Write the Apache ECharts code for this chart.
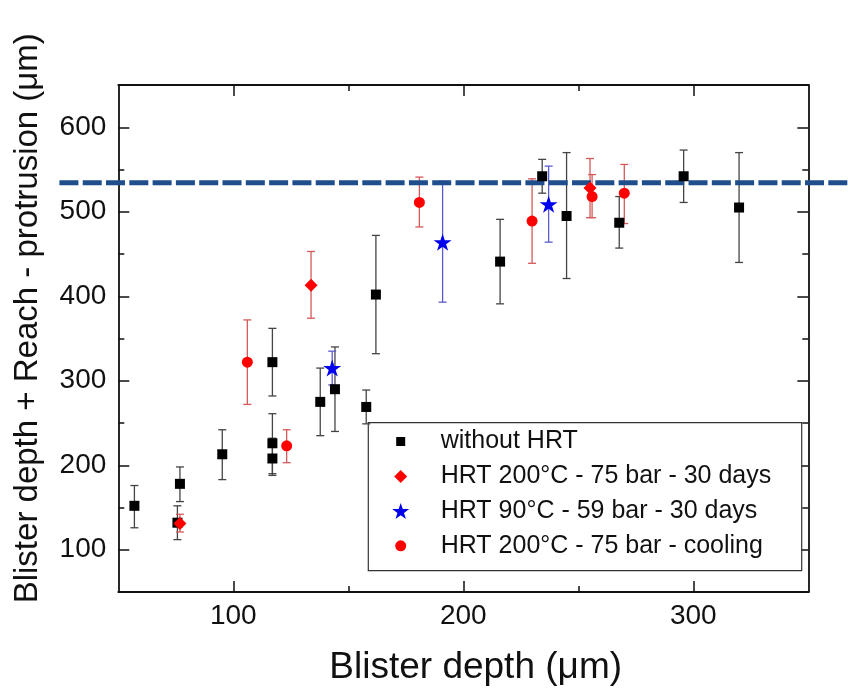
<!DOCTYPE html>
<html>
<head>
<meta charset="utf-8">
<script src="https://cdn.jsdelivr.net/npm/echarts@6/dist/echarts.min.js"></script>
<style>html,body{margin:0;padding:0;background:#fff;}#c{width:848px;height:693px;}</style>
</head>
<body>
<div id="c"></div>
<script>
// ---- data: [blister depth, value, lower error, upper error] ----
const withoutHRT = [
  [57, 152, 126, 176], [76.8, 178, 157, 198], [75.7, 132, 112, 152], [95.2, 213, 183, 242],
  [117, 322, 282, 362], [117, 226, 190, 261], [117, 208, 188, 232], [137.8, 275, 235, 315],
  [144.2, 290, 240, 340], [157.8, 269, 249, 289], [162, 402, 332, 472], [216, 441, 391, 491],
  [234.3, 542, 522, 562], [244.9, 495, 421, 570], [267.8, 487, 457, 518], [295.8, 542, 511, 573],
  [319.9, 505, 440, 570]
];
const hrt200Days = [[76.8, 131, 121, 142], [133.8, 413, 374, 453], [255.1, 528, 493, 563]];
const hrt90Days = [[143, 315, 295, 335], [191, 464, 393, 536], [237.1, 509, 464, 554]];
const hrt200Cooling = [
  [106.1, 322, 272, 372], [123.2, 223, 203, 242], [180.9, 511, 482, 541],
  [229.9, 489, 439, 539], [256, 518, 493, 544], [270, 522, 486, 556]
];
const reachLevel = 534.4;
const reachLineX = [24.4, 367.4];
const seriesNames = ['without HRT', 'HRT 200°C - 75 bar - 30 days', 'HRT 90°C - 59 bar - 30 days', 'HRT 200°C - 75 bar - cooling'];
const xRange = [50, 350], yRange = [50, 650];
const xMajor = [100, 200, 300], xMinor = [150, 250];
const yMajor = [100, 200, 300, 400, 500, 600], yMinor = [150, 250, 350, 450, 550];
const xTitle = 'Blister depth (\u03bcm)';
const yTitle = 'Blister depth + Reach - protrusion (\u03bcm)';

const FONT = '"Liberation Sans", Arial, sans-serif';
const STAR = 'path://M50,0 L61.8,35.1 L98.9,35.1 L68.9,56.8 L80.3,91.9 L50,70.2 L19.7,91.9 L31.1,56.8 L1.1,35.1 L38.2,35.1 Z';

function mkAxis(kind, pos, range, ticks, len, showLine, labels) {
  return {
    type: 'value', position: pos, min: range[0], max: range[1],
    axisLine: { show: showLine, onZero: false, lineStyle: { color: '#111', width: 1.8 } },
    axisTick: { show: true, inside: true, length: len, customValues: ticks, lineStyle: { color: '#111', width: 1.5 } },
    axisLabel: labels ? { show: true, customValues: ticks, color: '#111', fontSize: 28, fontFamily: FONT, margin: kind === 'x' ? 10 : 12 } : { show: false },
    splitLine: { show: false }
  };
}

function errorSeries(data, color) {
  return {
    type: 'custom', data: data, z: 2, silent: true,
    encode: { x: 0, y: 1 },
    renderItem: function (params, api) {
      const x = api.value(0);
      const top = api.coord([x, api.value(3)]);
      const bot = api.coord([x, api.value(2)]);
      const w = 4;
      const st = { stroke: color, lineWidth: 1.3 };
      return {
        type: 'group', children: [
          { type: 'line', shape: { x1: top[0], y1: top[1], x2: bot[0], y2: bot[1] }, style: st },
          { type: 'line', shape: { x1: top[0] - w, y1: top[1], x2: top[0] + w, y2: top[1] }, style: st },
          { type: 'line', shape: { x1: bot[0] - w, y1: bot[1], x2: bot[0] + w, y2: bot[1] }, style: st }
        ]
      };
    }
  };
}

const pts = d => d.map(r => [r[0], r[1]]);
const legendRows = [
  { name: seriesNames[0], cy: 441.5, h: 9 },
  { name: seriesNames[1], cy: 476.5, h: 13 },
  { name: seriesNames[2], cy: 511, h: 17 },
  { name: seriesNames[3], cy: 545.8, h: 11 }
];
const iconCx = 400.7, textX = 440.7;

const chart = echarts.init(document.getElementById('c'), null, { renderer: 'canvas' });
chart.setOption({
  animation: false,
  backgroundColor: '#fff',
  grid: { left: 118.3, right: 39.7, top: 85, bottom: 101 },
  xAxis: [
    mkAxis('x', 'bottom', xRange, xMajor, 11, true, true),
    mkAxis('x', 'bottom', xRange, xMinor, 6, false, false),
    mkAxis('x', 'top', xRange, xMajor, 11, true, false),
    mkAxis('x', 'top', xRange, xMinor, 6, false, false)
  ],
  yAxis: [
    mkAxis('y', 'left', yRange, yMajor, 11, true, true),
    mkAxis('y', 'left', yRange, yMinor, 6, false, false),
    mkAxis('y', 'right', yRange, yMajor, 11, true, false),
    mkAxis('y', 'right', yRange, yMinor, 6, false, false)
  ],
  legend: legendRows.map(r => ({
    data: [r.name], orient: 'vertical', left: iconCx - r.h / 2, top: r.cy - 12.5, padding: 0, z: 10,
    itemWidth: r.h, itemHeight: r.h, itemGap: 0, selectedMode: false,
    textStyle: { fontSize: 25, fontFamily: FONT, color: '#111', lineHeight: 25,
      padding: [0, 0, 0, textX - (iconCx - r.h / 2) - r.h - 5] }
  })),
  graphic: [
    { type: 'rect', z: 1, shape: { x: 368.3, y: 422.7, width: 433.4, height: 148 }, style: { fill: '#fff', stroke: '#333', lineWidth: 1.2 } },
    { type: 'text', x: 329.3, y: 667.5, style: { text: xTitle, fontSize: 37, fontFamily: FONT, fill: '#111', textAlign: 'left', textVerticalAlign: 'middle' } },
    { type: 'text', x: 28, y: 603.3, rotation: Math.PI / 2, style: { text: yTitle, fontSize: 33, fontFamily: FONT, fill: '#111', textAlign: 'left', textVerticalAlign: 'middle' } }
  ],
  series: [
    errorSeries(withoutHRT, '#444'),
    errorSeries(hrt200Days, '#d45a5a'),
    errorSeries(hrt90Days, '#5a5ad0'),
    errorSeries(hrt200Cooling, '#d45a5a'),
    { name: seriesNames[0], type: 'scatter', data: pts(withoutHRT), symbol: 'rect', symbolSize: 10, itemStyle: { color: '#000', opacity: 1 }, z: 4 },
    { name: seriesNames[1], type: 'scatter', data: pts(hrt200Days), symbol: 'diamond', symbolSize: 13, itemStyle: { color: '#f00', opacity: 1 }, z: 4 },
    { name: seriesNames[2], type: 'scatter', data: pts(hrt90Days), symbol: STAR, symbolSize: [18, 17], itemStyle: { color: '#0000ee', opacity: 1 }, z: 4 },
    { name: seriesNames[3], type: 'scatter', data: pts(hrt200Cooling), symbol: 'circle', symbolSize: 11, itemStyle: { color: '#f00', opacity: 1 }, z: 4 },
    { type: 'custom', data: [[reachLineX[0], reachLineX[1], reachLevel]], clip: false, silent: true, z: 3,
      encode: { x: [0, 1], y: 2 },
      renderItem: function (params, api) {
        const a = api.coord([api.value(0), api.value(2)]);
        const b = api.coord([api.value(1), api.value(2)]);
        return { type: 'line', shape: { x1: a[0], y1: a[1], x2: b[0], y2: b[1] },
          style: { stroke: '#1f4e8c', lineWidth: 5, lineDash: [19, 4.3] } };
      } }
  ]
});
</script>
</body>
</html>
